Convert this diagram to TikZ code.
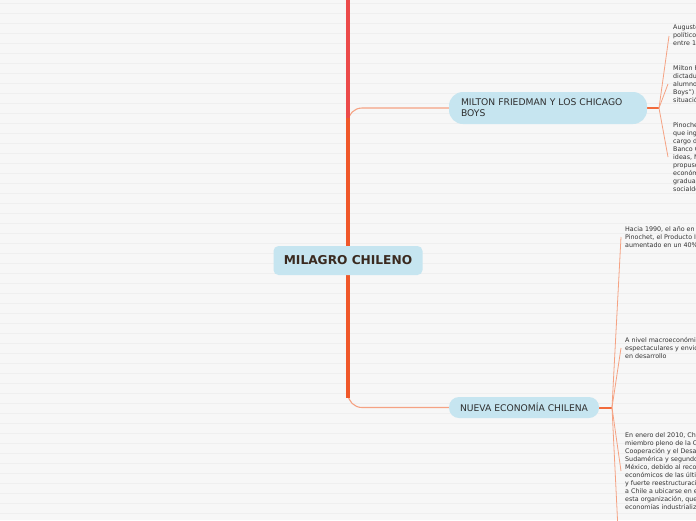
\documentclass[tikz,border=0pt]{standalone}
\usepackage{fontspec}
\setmainfont{DejaVu Sans}
\usetikzlibrary{backgrounds}
\definecolor{bg}{HTML}{F7F7F7}
\definecolor{ruleline}{HTML}{EFEFEF}
\definecolor{trunkred}{HTML}{EC4A4A}
\definecolor{trunkorange}{HTML}{F0582A}
\definecolor{thinline}{HTML}{F5A283}
\definecolor{stubline}{HTML}{F26B3C}
\definecolor{nodefill}{HTML}{C6E5F0}
\definecolor{nodetext}{HTML}{2E2E2E}
\definecolor{centraltext}{HTML}{3A2A20}
\definecolor{subtext}{HTML}{333333}
\tikzset{
  topic/.style={fill=nodefill, text=nodetext, inner sep=0pt, font=\fontsize{9.2}{11}\selectfont},
  centraltopic/.style={fill=nodefill, text=centraltext, inner sep=0pt, rounded corners=5pt,
    font=\bfseries\fontsize{12.2}{14}\selectfont, minimum width=149pt, minimum height=29pt},
  subtopic/.style={anchor=west, inner sep=0pt, align=left, text=subtext, font=\fontsize{6.35}{8}\selectfont},
  trunk/.style={line width=4pt},
  branch/.style={draw=thinline, line width=1.1pt, rounded corners=14pt},
  stub/.style={draw=stubline, line width=2pt},
  fan/.style={draw=thinline, line width=0.8pt},
}
\begin{document}
\begin{tikzpicture}[x=1pt,y=-1pt]
\useasboundingbox (0,0) rectangle (696,520);
\clip (0,0) rectangle (696,520);
\begin{pgfonlayer}{background}
\fill[bg] (0,0) rectangle (696,520);
\foreach \k in {0,...,51} {\draw[ruleline, line width=1pt] (0,3.5+10*\k) -- (696,3.5+10*\k);}
\end{pgfonlayer}

% nodes
\node[centraltopic] (central) at (348,260.5) {MILAGRO CHILENO};
\node[topic, rounded corners=14pt, minimum width=198pt, minimum height=32pt,
      text width=174pt, align=left] (milton) at (548,108)
      {MILTON FRIEDMAN Y LOS CHICAGO\\BOYS};
\node[topic, rounded corners=10pt, minimum width=150pt, minimum height=21pt] (nueva) at (524,407.5)
      {NUEVA ECONOMÍA CHILENA};

\coordinate (rootin) at (348,-10);
\coordinate (mbend) at (348,108);
\coordinate (nbend) at (348,407.5);
\coordinate (mthick) at (348,118);
\coordinate (nthick) at (348,398);
\coordinate (mfork) at (659,108);
\coordinate (nfork) at (612,407.5);
\coordinate (nmore) at (618,530);

% sub topics
\node[subtopic] (b1) at (673,36) {Augusto Pinochet, militar y\\político chileno, gobernó Chile\\entre 1973 y 1990.};
\node[subtopic] (b2) at (673,84) {Milton Friedman visitó Chile en la\\dictadura y sus\\alumnos (los "Chicago\\Boys") analizaron la\\situación económica.};
\node[subtopic] (b3) at (673,157) {Pinochet, tras un tiempo,\\que ingresaron a ocupar\\cargo de ministros y del\\Banco Central. Con estas\\ideas, Milton Friedman\\propuso un tratamiento\\económico de shock y\\gradualmente se dio una\\socialdemocracia.};
\node[subtopic] (c1) at (625,237) {Hacia 1990, el año en que terminó el régimen de\\Pinochet, el Producto Interno Bruto había\\aumentado en un 40\%.};
\node[subtopic] (c2) at (625,348) {A nivel macroeconómico, los resultados fueron\\espectaculares y envidiables para un país\\en desarrollo};
\node[subtopic] (c3) at (625,471) {En enero del 2010, Chile se convirtió en\\miembro pleno de la Organización para la\\Cooperación y el Desarrollo Económico, primer país de\\Sudamérica y segundo de Latinoamérica tras\\México, debido al reconocimiento de los logros\\económicos de las últimas décadas, su democracia\\y fuerte reestructuración. Esto permitió\\a Chile a ubicarse en el grupo selecto de\\esta organización, que reúne a las\\economías industrializadas.};

% connectors (behind nodes)
\begin{pgfonlayer}{background}
\draw[branch] (central.north) -- (mbend) -- (milton.west);
\draw[branch] (central.south) -- (nbend) -- (nueva.west);
\draw[trunk, trunkred] (rootin) -- (central.north);
\draw[trunk, trunkorange] (central.north) -- (mthick);
\draw[trunk, trunkorange] (central.south) -- (nthick);
\draw[stub] (milton.east) -- (mfork);
\draw[stub] (nueva.east) -- (nfork);
\draw[fan] (mfork) -- ([xshift=-4pt]b1.west);
\draw[fan] (mfork) -- ([xshift=-5pt]b2.west);
\draw[fan] (mfork) -- ([xshift=-5pt]b3.west);
\draw[fan] (nfork) -- ([xshift=-4pt]c1.west);
\draw[fan] (nfork) -- ([xshift=-4pt]c2.west);
\draw[fan] (nfork) -- ([xshift=-4pt]c3.west);
\draw[fan] (nfork) -- (nmore);
\end{pgfonlayer}
\end{tikzpicture}
\end{document}
